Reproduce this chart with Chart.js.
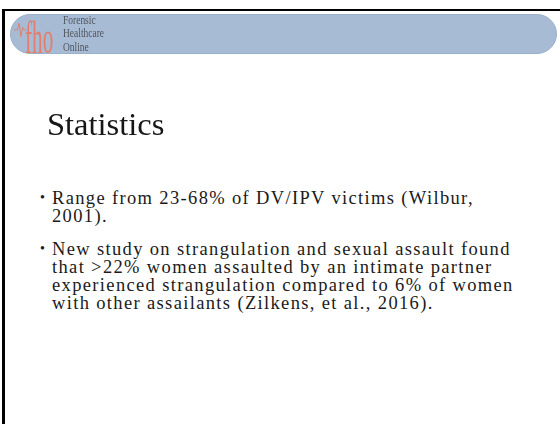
<!DOCTYPE html>
<html>
<head>
<meta charset="utf-8">
<script src="https://cdn.jsdelivr.net/npm/chart.js@4"></script>
<style>
  html, body { margin: 0; padding: 0; background: #fff; }
  body { width: 560px; height: 424px; position: relative; overflow: hidden;
         font-family: "Liberation Serif", "Times New Roman", serif; }
  .frame { position: absolute; left: 2px; top: 9px; width: 560px; height: 420px;
           border-top: 2px solid #000; border-left: 3px solid #000; }
  .band { position: absolute; left: 10px; top: 14px; width: 545px; height: 38px;
          background: #a7bcd4; border: 1px solid #9bb1ca; border-radius: 20px; }
  .logo { position: absolute; left: 25px; top: 15px; font-size: 46px; line-height: 46px;
          color: #e27f6c; transform: scaleX(0.46); transform-origin: left top; white-space: nowrap; }
  .brand { position: absolute; left: 63px; top: 14px; font-size: 12px; line-height: 13.3px;
           color: #50555e; transform: scaleX(0.79); transform-origin: left top; }
  #pulse { position: absolute; left: 13px; top: 21px; }
  h1 { position: absolute; left: 47px; top: 108px; margin: 0; font-weight: normal;
       font-size: 32.5px; line-height: 33px; font-family: inherit; color: #161616; }
  .item { position: absolute; left: 52px; font-size: 18.5px; line-height: 18.1px; color: #1a1a1a;
          letter-spacing: 1.35px; white-space: nowrap; }
  .dot { position: absolute; left: 40px; font-size: 14px; line-height: 14px; color: #1a1a1a; }
</style>
</head>
<body>
<div class="frame"></div>
<div class="band"></div>
<canvas id="pulse" width="14" height="18"></canvas>
<div class="logo">fho</div>
<div class="brand" id="brand"></div>
<h1 id="title"></h1>
<div id="items"></div>
<script>
const title = 'Statistics';
const brandLines = ['Forensic', 'Healthcare', 'Online'];
const bullets = [
  ['Range from 23-68% of DV/IPV victims (Wilbur,', '2001).'],
  ['New study on strangulation and sexual assault found',
   'that >22% women assaulted by an intimate partner',
   'experienced strangulation compared to 6% of women',
   'with other assailants (Zilkens, et al., 2016).']
];
const bulletTops = [189, 240];

// heartbeat trace in the logo
const pulseSteps = ['0', '1', '2', '3', '4', '5', '6', '7'];
const pulseValues = [0, 0, 0, 5, -5, 2, 0, 0];

document.getElementById('title').textContent = title;
document.getElementById('brand').innerHTML = brandLines.join('<br>');

const items = document.getElementById('items');
bullets.forEach((lines, i) => {
  const dot = document.createElement('div');
  dot.className = 'dot';
  dot.style.top = (bulletTops[i] + 2) + 'px';
  dot.textContent = '•';
  items.appendChild(dot);
  const el = document.createElement('div');
  el.className = 'item';
  el.style.top = bulletTops[i] + 'px';
  el.innerHTML = lines.join('<br>');
  items.appendChild(el);
});

new Chart(document.getElementById('pulse').getContext('2d'), {
  type: 'line',
  data: {
    labels: pulseSteps,
    datasets: [{
      data: pulseValues,
      borderColor: '#e27f6c',
      borderWidth: 1,
      pointRadius: 0,
      tension: 0,
      fill: false
    }]
  },
  options: {
    responsive: false,
    animation: false,
    events: [],
    layout: { padding: 1 },
    plugins: { legend: { display: false }, tooltip: { enabled: false } },
    scales: {
      x: { display: false },
      y: { display: false, min: -6, max: 6 }
    }
  }
});
</script>
</body>
</html>
